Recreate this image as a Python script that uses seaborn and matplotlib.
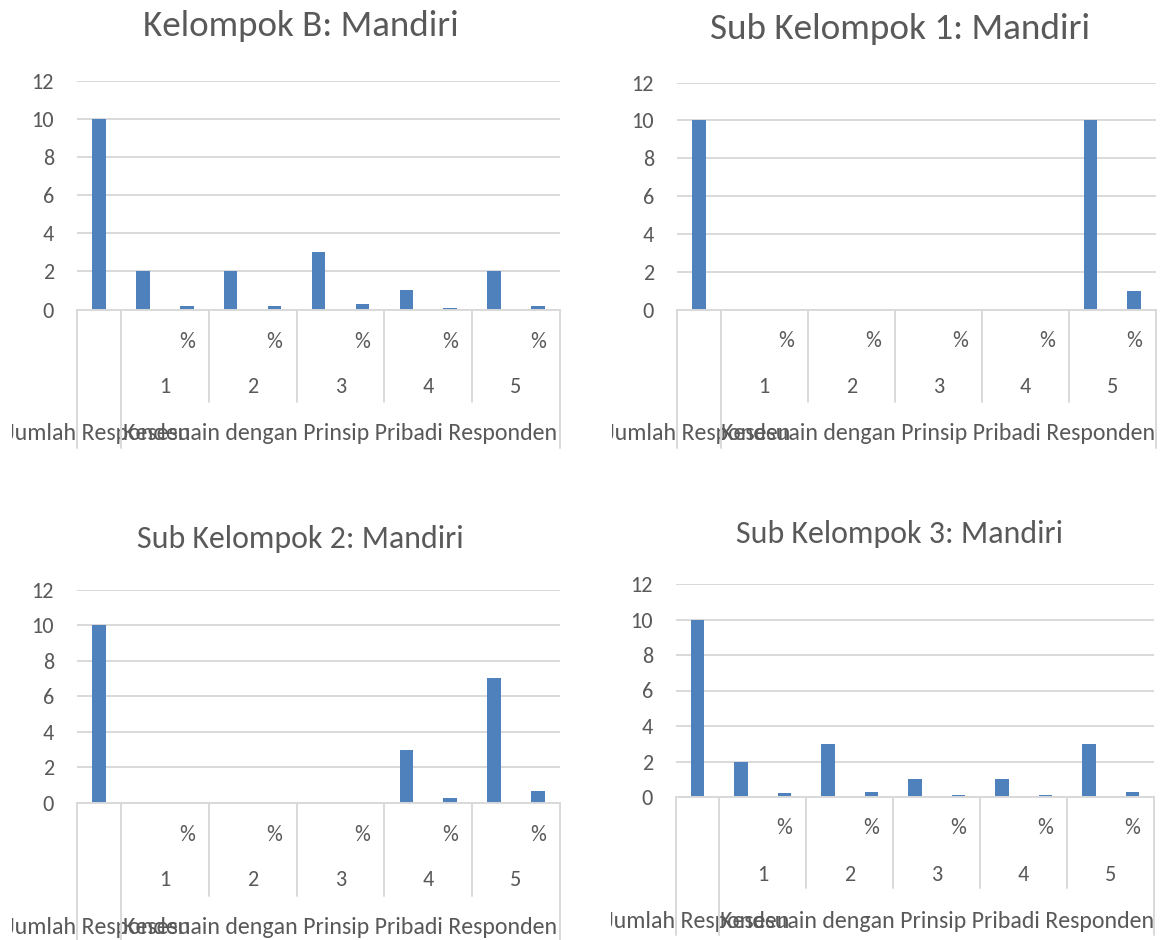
import matplotlib
matplotlib.use("Agg")
import matplotlib.pyplot as plt
from matplotlib import font_manager
from matplotlib.lines import Line2D
from matplotlib.transforms import blended_transform_factory, Bbox
import seaborn as sns
import pandas as pd

# ---- data -------------------------------------------------------------
titles = [
    "Kelompok B: Mandiri",
    "Sub Kelompok 1: Mandiri",
    "Sub Kelompok 2: Mandiri",
    "Sub Kelompok 3: Mandiri",
]
jumlah_label = "Jumlah Responden"
kesesuaian_label = "Kesesuain dengan Prinsip Pribadi Responden"
scale_points = ["1", "2", "3", "4", "5"]
pct_label = "%"

jumlah_responden = [10, 10, 10, 10]

kelompok_b_n = [2, 2, 3, 1, 2]
kelompok_b_pct = [0.2, 0.2, 0.3, 0.1, 0.2]

sub1_n = [0, 0, 0, 0, 10]
sub1_pct = [0, 0, 0, 0, 1.0]

sub2_n = [0, 0, 0, 3, 7]
sub2_pct = [0, 0, 0, 0.3, 0.7]

sub3_n = [2, 3, 1, 1, 3]
sub3_pct = [0.2, 0.3, 0.1, 0.1, 0.3]

counts = [kelompok_b_n, sub1_n, sub2_n, sub3_n]
percents = [kelompok_b_pct, sub1_pct, sub2_pct, sub3_pct]

y_ticks = [0, 2, 4, 6, 8, 10, 12]

# ---- style ------------------------------------------------------------
W, H, DPI = 1163, 940, 100
BAR = "#4F81BD"
GRID = "#D9D9D9"
TXT = "#595959"

sns.set_theme(style="white")


def first_available(names):
    for name in names:
        try:
            font_manager.findfont(name, fallback_to_default=False)
            return name
        except ValueError:
            continue
    return "DejaVu Sans"


MAIN_FONT = first_available(["Carlito", "Lato", "Open Sans"])
plt.rcParams["font.family"] = [MAIN_FONT, "DejaVu Sans"]

# panel geometry in pixels (plot box, category rows, title position)
panels = [
    dict(l=77, r=560, top=81, base=309.5, pct=342, num=387, lab=433,
         div=402, bot=448, tx=301, ty=26, tw=316),
    dict(l=677, r=1156, top=82.5, base=309.5, pct=341, num=387, lab=433,
         div=402, bot=448, tx=900, ty=29, tw=380),
    dict(l=77, r=560, top=589.5, base=803, pct=835, num=880, lab=928,
         div=896, bot=940, tx=300, ty=539, tw=327),
    dict(l=676, r=1154, top=584, base=797, pct=828, num=875, lab=921,
         div=888, bot=935, tx=899, ty=534, tw=328),
]

fig = plt.figure(figsize=(W / DPI, H / DPI), dpi=DPI)
fig.patch.set_facecolor("white")
renderer = fig.canvas.get_renderer()


def fit_size(text_obj, target_px):
    w = text_obj.get_window_extent(renderer).width
    text_obj.set_fontsize(text_obj.get_fontsize() * target_px / w)


def fy(py):
    return 1 - py / H


def fitted(label, target_px):
    probe = fig.text(0, 0, label, fontsize=15)
    fit_size(probe, target_px)
    size = probe.get_fontsize()
    probe.remove()
    return size


# long category labels fitted to their width; digits sized on "10"
CAT_FS = fitted(kesesuaian_label, 434)
NUM_FS = fitted("10", 22.5)
PAD_PT = 23 * 72 / DPI

slot_names = [jumlah_label]
for p in scale_points:
    slot_names += [f"{p} n", f"{p} {pct_label}"]

for i, g in enumerate(panels):
    ax = fig.add_axes([g["l"] / W, fy(g["base"]), (g["r"] - g["l"]) / W,
                       (g["base"] - g["top"]) / H])
    values = [jumlah_responden[i]]
    for n, pc in zip(counts[i], percents[i]):
        values += [n, pc]
    df = pd.DataFrame({"slot": slot_names, "value": values})
    sns.barplot(data=df, x="slot", y="value", order=slot_names, color=BAR,
                saturation=1, width=0.31, linewidth=0, ax=ax, errorbar=None)

    ax.set_ylim(0, 12)
    ax.set_xlim(-0.5, len(slot_names) - 0.5)
    ax.set_yticks(y_ticks)
    ax.set_yticklabels([str(v) for v in y_ticks], color=TXT, fontsize=NUM_FS)
    ax.tick_params(axis="y", length=0, pad=PAD_PT)
    ax.set_xticks([])
    ax.set_xlabel("")
    ax.set_ylabel("")
    ax.grid(axis="y", color=GRID, linewidth=1.4)
    ax.set_axisbelow(True)
    for s in ["top", "right", "left"]:
        ax.spines[s].set_visible(False)
    ax.spines["bottom"].set_color(GRID)
    ax.spines["bottom"].set_linewidth(1.4)
    ax.set_facecolor("white")

    # multi-level category axis
    tr = blended_transform_factory(ax.transData, fig.transFigure)
    n_slots = len(slot_names)
    for x in [-0.5, 0.5, n_slots - 0.5]:
        fig.add_artist(Line2D([x, x], [fy(g["base"]), fy(g["bot"])],
                              transform=tr, color=GRID, linewidth=1.4))
    for k in range(1, len(scale_points)):
        x = 0.5 + 2 * k
        fig.add_artist(Line2D([x, x], [fy(g["base"]), fy(g["div"])],
                              transform=tr, color=GRID, linewidth=1.4))
    for k, p in enumerate(scale_points):
        ax.text(2 + 2 * k, fy(g["pct"]), pct_label, transform=tr,
                ha="center", va="center", color=TXT, fontsize=NUM_FS)
        ax.text(1.5 + 2 * k, fy(g["num"]), p, transform=tr,
                ha="center", va="center", color=TXT, fontsize=NUM_FS)

    # the first-level label is cut at the left edge of the chart area
    jl = ax.text(0, fy(g["lab"]), jumlah_label, transform=tr, ha="center",
                 va="center", color=TXT, fontsize=CAT_FS)
    clip_left = g["l"] - 65
    jl.set_clip_box(Bbox.from_extents(clip_left, 0, W, H))
    jl.set_clip_on(True)

    ax.text((0.5 + n_slots - 0.5) / 2, fy(g["lab"]), kesesuaian_label,
            transform=tr, ha="center", va="center", color=TXT,
            fontsize=CAT_FS)

    t = fig.text(g["tx"] / W, fy(g["ty"]), titles[i], ha="center",
                 va="center", color=TXT, fontsize=20)
    fit_size(t, g["tw"])

fig.savefig("out.png", dpi=DPI, facecolor="white")
